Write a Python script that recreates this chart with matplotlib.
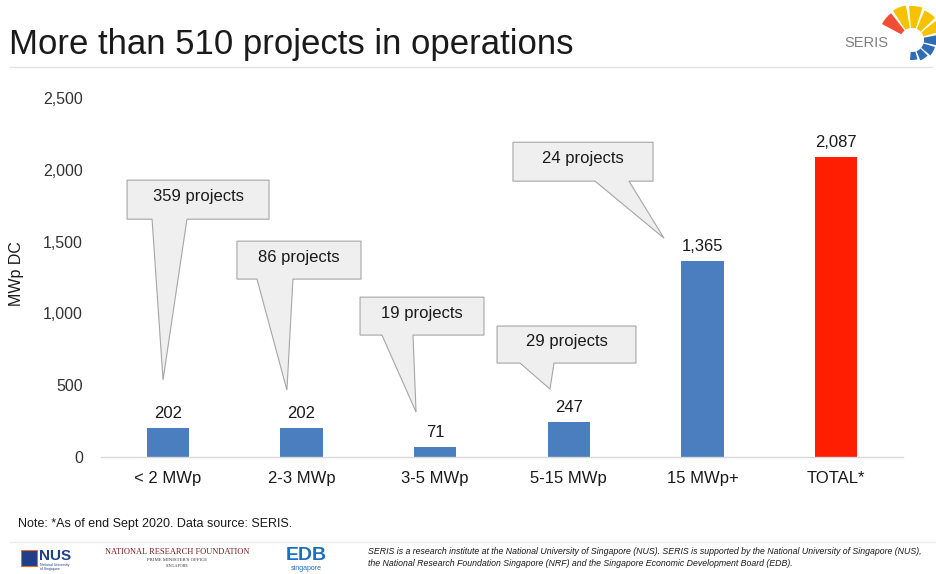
import matplotlib
matplotlib.use("Agg")
import matplotlib.pyplot as plt
from matplotlib.patches import Polygon, Wedge, Rectangle
from matplotlib.lines import Line2D
from matplotlib.ticker import FuncFormatter

plt.rcParams['font.family'] = ['Liberation Sans', 'DejaVu Sans']

# ---- data ----
categories = ['< 2 MWp', '2-3 MWp', '3-5 MWp', '5-15 MWp', '15 MWp+', 'TOTAL*']
capacity_mwp = [202, 202, 71, 247, 1365, 2087]
project_counts = [359, 86, 19, 29, 24]
y_ticks = [0, 500, 1000, 1500, 2000, 2500]

title = 'More than 510 projects in operations'
ylabel = 'MWp DC'
note = 'Note: *As of end Sept 2020. Data source: SERIS.'
disclaimer = ['SERIS is a research institute at the National University of Singapore (NUS). SERIS is supported by the National University of Singapore (NUS),',
              'the National Research Foundation Singapore (NRF) and the Singapore Economic Development Board (EDB).']

# ---- layout / style ----
W, H = 936, 574
fig = plt.figure(figsize=(W / 100, H / 100), dpi=100)
fig.patch.set_facecolor('white')

def fx(px):
    return px / W

def fy(py):
    return 1 - py / H

ax = fig.add_axes([fx(101), fy(457), fx(903) - fx(101), fy(98) - fy(457)])
x = list(range(len(categories)))
colors = ['#4A7EBF'] * 5 + ['#FF1E00']
bars = ax.bar(x, capacity_mwp, width=0.315, color=colors, zorder=2)
ax.set_xlim(-0.5, len(categories) - 0.5)
ax.set_ylim(0, 2500)
ax.set_yticks(y_ticks)
ax.yaxis.set_major_formatter(FuncFormatter(lambda v, p: f'{int(v):,}'))
ax.set_xticks(x)
ax.set_xticklabels(categories)
ax.tick_params(axis='y', length=0, pad=13, labelsize=11.5, labelcolor='#333333')
ax.tick_params(axis='x', length=0, pad=10, labelsize=12, labelcolor='#1a1a1a')
for s in ['top', 'right', 'left']:
    ax.spines[s].set_visible(False)
ax.spines['bottom'].set_color('#d9d9d9')
ax.spines['bottom'].set_linewidth(1.0)

for xi, v in zip(x, capacity_mwp):
    ax.annotate(f'{v:,}', (xi, v), xytext=(0, 5), textcoords='offset points',
                ha='center', va='bottom', fontsize=12, color='#1a1a1a')

# callout shapes in data coords: (box_left, box_right, box_bottom, box_top, base_left, base_right, tip_x, tip_y)
callouts = [
    (-0.305, 0.757, 1656, 1928, -0.118, 0.143, -0.036, 536),
    (0.517, 1.445, 1239, 1503, 0.667, 0.936, 0.891, 466),
    (1.438, 2.365, 849, 1113, 1.602, 1.834, 1.857, 313),
    (2.463, 3.502, 654, 912, 2.635, 2.889, 2.859, 473),
    (2.582, 3.630, 1921, 2192, 3.196, 3.450, 3.712, 1524),
]
for (bl, br, bb, bt, pl, pr, tx, ty), n in zip(callouts, project_counts):
    verts = [(bl, bt), (br, bt), (br, bb), (pr, bb), (tx, ty), (pl, bb), (bl, bb)]
    ax.add_patch(Polygon(verts, closed=True, facecolor='#efefef', edgecolor='#a6a6a6',
                         linewidth=0.8, zorder=3, clip_on=False))
    ax.text((bl + br) / 2, (bb + bt) / 2 + 20, f'{n} projects', ha='center', va='center',
            fontsize=12, color='#1a1a1a', zorder=4)

# y label
fig.text(fx(17), fy(274), ylabel, rotation=90, ha='center', va='center', fontsize=11.5, color='#1a1a1a')

# title and rule
fig.text(fx(9), fy(54), title, ha='left', va='baseline', fontsize=25, color='#1a1a1a')
fig.add_artist(Line2D([fx(10), fx(932)], [fy(67), fy(67)], color='#e3e3e3', linewidth=1.0))

# SERIS logo
cx, cy = 912, 40
logo_ax = fig.add_axes([fx(cx - 40), fy(cy + 40), 80 / W, 80 / H])
logo_ax.set_xlim(-40, 40)
logo_ax.set_ylim(-40, 40)
logo_ax.set_aspect('equal')
logo_ax.axis('off')
segs = [(128, 152, 34, '#F04E37'),
        (100, 123, 35, '#F6C200'), (72, 95, 34, '#F6C200'),
        (44, 67, 32, '#F6C200'), (17, 39, 30, '#F6C200'),
        (-12, 11, 27, '#2E6DB4'), (-40, -17, 24, '#2E6DB4'),
        (-68, -45, 22, '#2E6DB4'), (-96, -74, 20, '#2E6DB4')]
for a0, a1, r, c in segs:
    logo_ax.add_patch(Wedge((0, 0), r, a0, a1, width=r - 12, facecolor=c, edgecolor='none'))
fig.text(fx(866), fy(43), 'SERIS', ha='center', va='center', fontsize=10.5, color='#7f7f7f', zorder=5)

# note
fig.text(fx(18), fy(524), note, ha='left', va='center', fontsize=9, color='#1a1a1a')
fig.add_artist(Line2D([fx(10), fx(936)], [fy(542), fy(542)], color='#ebebeb', linewidth=1.0))

# footer logos (text approximations)
fig.add_artist(Rectangle((fx(21), fy(566)), 16 / W, 16 / H, facecolor='#1f3f8a', edgecolor='#e07020', linewidth=0.8))
fig.text(fx(39), fy(556), 'NUS', ha='left', va='center', fontsize=11, fontweight='bold', color='#1f3f8a')
fig.text(fx(40), fy(567), 'National University\nof Singapore', ha='left', va='center', fontsize=2.5, color='#1f3f8a', linespacing=1.0)
fig.text(fx(177), fy(552), 'NATIONAL RESEARCH FOUNDATION', ha='center', va='center', fontsize=6,
         family=['Liberation Serif', 'DejaVu Serif'], color='#7a1a1a')
fig.text(fx(177), fy(560), "PRIME MINISTER'S OFFICE", ha='center', va='center', fontsize=3.5,
         family=['Liberation Serif', 'DejaVu Serif'], color='#333333')
fig.text(fx(177), fy(566), 'SINGAPORE', ha='center', va='center', fontsize=3,
         family=['Liberation Serif', 'DejaVu Serif'], color='#333333')
fig.text(fx(306), fy(556), 'EDB', ha='center', va='center', fontsize=14, fontweight='bold', color='#1a6fc0')
fig.text(fx(306), fy(568), 'singapore', ha='center', va='center', fontsize=5, color='#1a6fc0')
for i, line in enumerate(disclaimer):
    fig.text(fx(368), fy(551 + 13 * i), line, ha='left', va='center', fontsize=6.3,
             style='italic', family=['Liberation Sans Narrow', 'Liberation Sans', 'DejaVu Sans'], color='#1a1a1a')

fig.savefig('out.png', dpi=100, facecolor='white')
